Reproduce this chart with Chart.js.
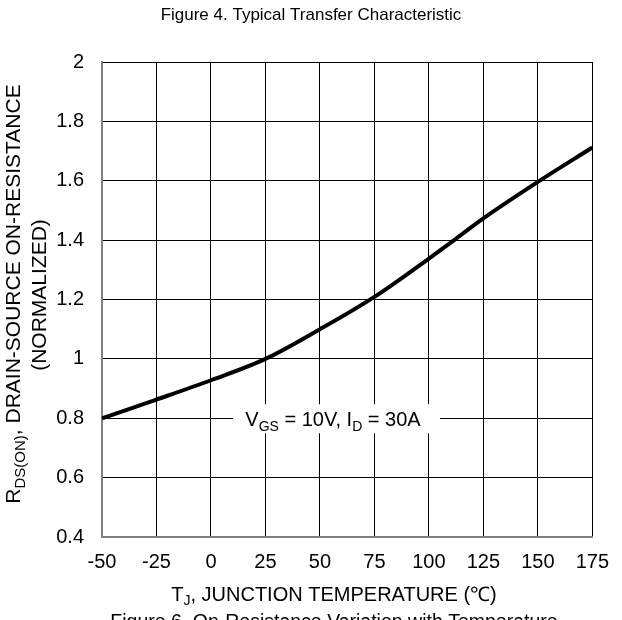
<!DOCTYPE html>
<html>
<head>
<meta charset="utf-8">
<script src="https://cdn.jsdelivr.net/npm/chart.js@4.4.1/dist/chart.umd.min.js"></script>
<style>
  html, body { margin: 0; padding: 0; background: #fff; }
  #wrap { width: 622px; height: 620px; }
</style>
</head>
<body>
<div id="wrap"><canvas id="rdsChart"></canvas></div>
<script>
// Werte
const temps = [-50, -25, 0, 25, 50, 75, 100, 112.5, 125, 150, 175];
const rdson = [0.80, 0.863, 0.928, 1.0, 1.10, 1.209, 1.338, 1.405, 1.473, 1.596, 1.712];
const xTicks = [-50, -25, 0, 25, 50, 75, 100, 125, 150, 175];
const yTicks = [0.4, 0.6, 0.8, 1, 1.2, 1.4, 1.6, 1.8, 2];

const FONT = 'Arial, "Liberation Sans", sans-serif';

// Text mit Tiefstellungen zeichnen
function drawRich(ctx, parts, x, y, size, align) {
  const subSize = Math.round(size * 0.72);
  let total = 0;
  parts.forEach(p => {
    ctx.font = (p.sub ? subSize : size) + 'px ' + FONT;
    p.w = ctx.measureText(p.t).width;
    total += p.w;
  });
  let cx = align === 'center' ? x - total / 2 : x;
  ctx.textAlign = 'left';
  ctx.textBaseline = 'middle';
  parts.forEach(p => {
    ctx.font = (p.sub ? subSize : size) + 'px ' + FONT;
    ctx.fillText(p.t, cx, p.sub ? y + size * 0.32 : y);
    cx += p.w;
  });
  return total;
}

const textPlugin = {
  id: 'texte',
  beforeDatasetsDraw(chart) {
    const ctx = chart.ctx;
    const ys = chart.scales.y;
    // Kasten fuer die Beschriftung
    const cy = ys.getPixelForValue(0.8);
    ctx.save();
    ctx.fillStyle = '#fff';
    ctx.fillRect(233, cy - 14, 207, 29);
    ctx.fillStyle = '#000';
    drawRich(ctx, [
      {t: 'V'}, {t: 'GS', sub: true}, {t: ' = 10V, I'}, {t: 'D', sub: true}, {t: ' = 30A'}
    ], 333, cy + 2, 20, 'center');
    ctx.restore();
  },
  afterDraw(chart) {
    const ctx = chart.ctx;
    ctx.save();
    ctx.fillStyle = '#000';
    ctx.textAlign = 'center';
    ctx.textBaseline = 'middle';
    ctx.font = '17px ' + FONT;
    ctx.fillText('Figure 4. Typical Transfer Characteristic', 311, 15);

    drawRich(ctx, [{t: 'T'}, {t: 'J', sub: true}, {t: ', JUNCTION TEMPERATURE (\u2103)'}], 334, 595, 20, 'center');

    ctx.textAlign = 'center';
    ctx.font = '19.5px ' + FONT;
    ctx.fillText('Figure 6. On-Resistance Variation with Temperature', 334, 623);

    // Y-Achsentitel, gedreht
    ctx.translate(14, 294);
    ctx.rotate(-Math.PI / 2);
    drawRich(ctx, [{t: 'R'}, {t: 'DS(ON)', sub: true}, {t: ', DRAIN-SOURCE ON-RESISTANCE'}], 0, 0, 21, 'center');
    ctx.textAlign = 'center';
    ctx.font = '21px ' + FONT;
    ctx.fillText('(NORMALIZED)', -1, 26);
    ctx.restore();
  }
};

new Chart(document.getElementById('rdsChart'), {
  type: 'line',
  data: {
    datasets: [{
      data: temps.map((t, i) => ({x: t, y: rdson[i]})),
      borderColor: '#000',
      borderWidth: 4,
      pointRadius: 0,
      cubicInterpolationMode: 'monotone',
      fill: false
    }]
  },
  options: {
    responsive: true,
    maintainAspectRatio: false,
    animation: false,
    layout: { padding: { top: 62, right: 29, left: 0, bottom: 0 } },
    plugins: { legend: { display: false }, tooltip: { enabled: false } },
    scales: {
      x: {
        type: 'linear',
        min: -50, max: 175,
        afterBuildTicks: s => { s.ticks = xTicks.map(v => ({value: v})); },
        afterFit: s => { s.height = 83; },
        grid: { color: '#000', lineWidth: 1, drawTicks: false },
        border: { color: '#808080', width: 2 },
        ticks: { color: '#000', padding: 13, font: { family: FONT, size: 20 }, maxRotation: 0 }
      },
      y: {
        min: 0.4, max: 2,
        afterBuildTicks: s => { s.ticks = yTicks.map(v => ({value: v})); },
        afterFit: s => { s.width = 102; },
        grid: { color: '#000', lineWidth: 1, drawTicks: false },
        border: { color: '#808080', width: 2 },
        ticks: {
          color: '#000', padding: 18, font: { family: FONT, size: 20 },
          callback: v => String(Math.round(v * 10) / 10)
        }
      }
    }
  },
  plugins: [textPlugin]
});
</script>
</body>
</html>
